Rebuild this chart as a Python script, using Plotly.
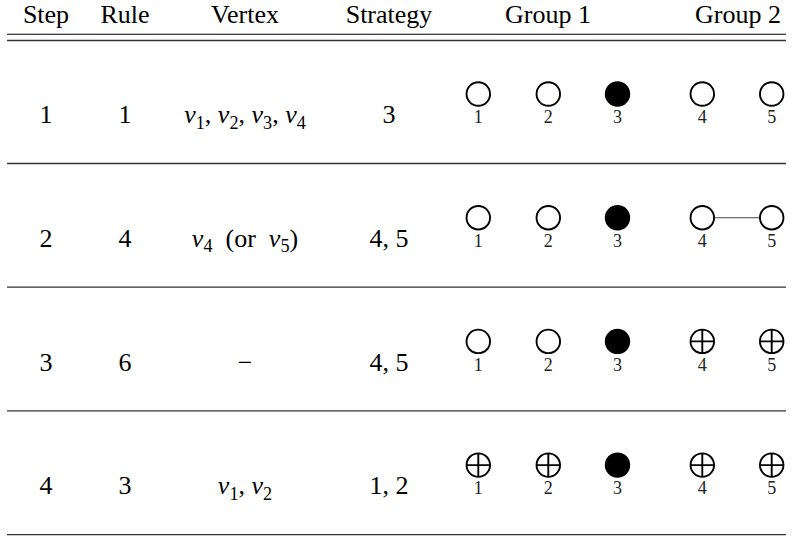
import plotly.graph_objects as go

# ---------------- data ----------------
headers = ["Step", "Rule", "Vertex", "Strategy", "Group 1", "Group 2"]
steps = ["1", "2", "3", "4"]
rules = ["1", "4", "6", "3"]
vertices = [
    "<i>v</i><sub>1</sub>, <i>v</i><sub>2</sub>, <i>v</i><sub>3</sub>, <i>v</i><sub>4</sub>",
    "<i>v</i><sub>4</sub>  (or  <i>v</i><sub>5</sub>)",
    "\u2212",
    "<i>v</i><sub>1</sub>, <i>v</i><sub>2</sub>",
]
strategies = ["3", "4, 5", "4, 5", "1, 2"]
node_ids = [1, 2, 3, 4, 5]
node_group = [1, 1, 1, 2, 2]
# o = open, f = filled, x = crossed
node_states = [
    ["o", "o", "f", "o", "o"],
    ["o", "o", "f", "o", "o"],
    ["o", "o", "f", "x", "x"],
    ["x", "x", "f", "x", "x"],
]
edges = [[], [(4, 5)], [], []]

# ---------------- layout constants ----------------
W, H = 792, 537
FONT = "Liberation Serif"
FS = 26
LFS = 18
MID = 0.25  # plotly: baseline = y + MID * fontsize for middle-positioned text
col_x = {"Step": 46, "Rule": 125, "Vertex": 245, "Strategy": 389}
node_x = [478.3, 548.3, 617.5, 702.3, 771.7]
group_hdr_x = {1: 548, 2: 738}
header_base = 22.7
row_base0 = 123.3
pitch = 123.7
circle_off = 29.3   # baseline - circle center
line_x0, line_x1 = 7, 786

def base(i):
    return row_base0 + i * pitch

fig = go.Figure()

# header text
hx = [col_x["Step"], col_x["Rule"], col_x["Vertex"], col_x["Strategy"], group_hdr_x[1], group_hdr_x[2]]
fig.add_trace(go.Scatter(
    x=hx, y=[header_base - MID * FS] * len(headers), mode="text", text=headers,
    textposition="middle center", textfont=dict(family=FONT, size=FS, color="black"),
    cliponaxis=False, hoverinfo="skip", showlegend=False))

# body text columns
for col, vals in [("Step", steps), ("Rule", rules), ("Vertex", vertices), ("Strategy", strategies)]:
    fig.add_trace(go.Scatter(
        x=[col_x[col]] * len(vals), y=[base(i) - MID * FS for i in range(len(vals))],
        mode="text", text=vals, textposition="middle center",
        textfont=dict(family=FONT, size=FS, color="black"),
        cliponaxis=False, hoverinfo="skip", showlegend=False))

# edges
for i, el in enumerate(edges):
    for a, b in el:
        cy = base(i) - circle_off
        fig.add_trace(go.Scatter(
            x=[node_x[a - 1], node_x[b - 1]], y=[cy, cy], mode="lines",
            line=dict(color="#444", width=1.1), cliponaxis=False,
            hoverinfo="skip", showlegend=False))

# nodes
sym = {"o": "circle", "f": "circle", "x": "circle-cross"}
fill = {"o": "white", "f": "black", "x": "white"}
for i, states in enumerate(node_states):
    cy = base(i) - circle_off
    fig.add_trace(go.Scatter(
        x=node_x, y=[cy] * len(states), mode="markers",
        marker=dict(symbol=[sym[s] for s in states], color=[fill[s] for s in states],
                    size=23.5, line=dict(color="black", width=1.9)),
        cliponaxis=False, hoverinfo="skip", showlegend=False))
    fig.add_trace(go.Scatter(
        x=node_x, y=[base(i) - MID * LFS] * len(node_ids), mode="text",
        text=[str(n) for n in node_ids], textposition="middle center",
        textfont=dict(family=FONT, size=LFS, color="#222"),
        cliponaxis=False, hoverinfo="skip", showlegend=False))

# rules
shapes = [
    dict(type="line", x0=line_x0, x1=line_x1, y0=34.3, y1=34.3, line=dict(color="black", width=1.1)),
    dict(type="line", x0=line_x0, x1=line_x1, y0=40.5, y1=40.5, line=dict(color="#333", width=1.6)),
]
for i in range(len(steps)):
    y = 163.5 + i * pitch
    shapes.append(dict(type="line", x0=line_x0, x1=line_x1, y0=y, y1=y,
                       line=dict(color="#333", width=1.3)))

fig.update_layout(
    width=W, height=H, margin=dict(l=0, r=0, t=0, b=0),
    paper_bgcolor="white", plot_bgcolor="white", shapes=shapes,
    hovermode=False,
    xaxis=dict(range=[0, W], visible=False, fixedrange=True),
    yaxis=dict(range=[H, 0], visible=False, fixedrange=True),
)
fig.write_html("out.html", config={"displayModeBar": False, "staticPlot": True},
               post_script="document.body.style.margin='0';")
